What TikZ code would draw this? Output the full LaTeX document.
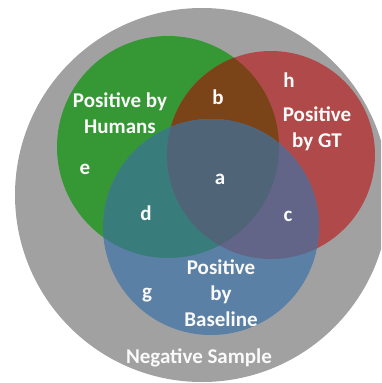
\documentclass[tikz,border=0pt]{standalone}
\usepackage{fontspec}
\setmainfont{Carlito}
\usetikzlibrary{calc}
\definecolor{negGray}{RGB}{161,161,161}
\definecolor{humGreen}{RGB}{53,152,53}
\definecolor{gtRed}{RGB}{176,74,74}
\definecolor{baseBlue}{RGB}{90,128,166}
\definecolor{hgBrown}{RGB}{123,68,24}
\definecolor{hbTeal}{RGB}{56,124,124}
\definecolor{gbPurple}{RGB}{98,101,136}
\definecolor{allSlate}{RGB}{80,100,120}
\def\humanset{(168,147) circle (111pt)}
\def\gtset{(271,155) circle (104pt)}
\def\baseset{(211,227) circle (108pt)}

\begin{document}
\begin{tikzpicture}[x=1pt,y=-1pt,
	lbl/.style={text=white!96!gray, font=\bfseries\fontsize{21}{26}\selectfont, align=center, inner sep=0pt}]
		%%%%% START %%%%%
		
		\useasboundingbox (0,0) rectangle (381,383);
		\clip (0,0) rectangle (381,383);
		\fill[negGray] (202,195) circle (187pt);
		
		\fill[humGreen] \humanset;
		\fill[gtRed] \gtset;
		\fill[baseBlue] \baseset;
		
		\begin{scope}
			\clip \humanset;
			\fill[hgBrown] \gtset;
			\fill[hbTeal] \baseset;
		\end{scope}
		\begin{scope}
			\clip \gtset;
			\fill[gbPurple] \baseset;
		\end{scope}
		\begin{scope}
			\clip \humanset;
			\clip \gtset;
			\fill[allSlate] \baseset;
		\end{scope}
		
		\node[lbl] (humans) at (120,113) {Positive by\\Humans};
		\node[lbl] (gt) at (317,129) {Positive\\by GT};
		\node[lbl] (base) at (221,293) {Positive\\by\\Baseline};
		\node[lbl] (neg) at (199,358) {Negative Sample};
		
		\node[lbl] (a) at (220,179) {a};
		\node[lbl] (b) at (218,97) {b};
		\node[lbl] (c) at (288,216) {c};
		\node[lbl] (d) at (146,213) {d};
		\node[lbl] (e) at (85,169) {e};
		\node[lbl] (g) at (147,295) {g};
		\node[lbl] (h) at (289,80) {h};
		
		%%%%% END %%%%%
\end{tikzpicture}
\end{document}
